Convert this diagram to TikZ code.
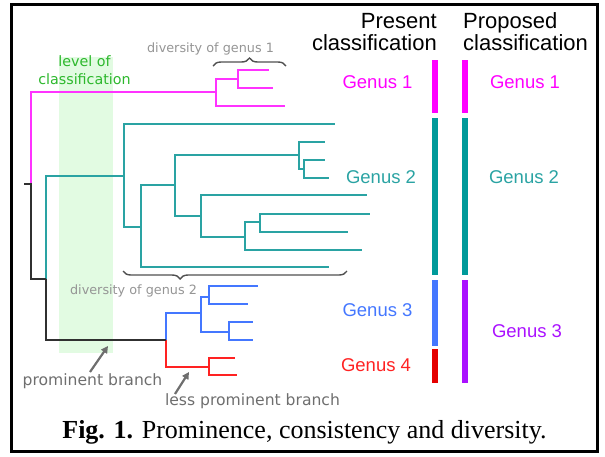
\documentclass[tikz,border=0pt]{standalone}
\usepackage{fontspec}
\setmainfont{Liberation Serif}
\newfontfamily\arialf{Liberation Sans}
\newfontfamily\verdf{DejaVu Sans}
\usetikzlibrary{decorations.pathreplacing,arrows.meta}
\definecolor{magc}{HTML}{FF33FF}
\definecolor{magbar}{HTML}{FF00FF}
\definecolor{tealc}{HTML}{2AA3A3}
\definecolor{tealbar}{HTML}{009A9A}
\definecolor{bluec}{HTML}{4477FF}
\definecolor{redc}{HTML}{FF2222}
\definecolor{purpc}{HTML}{AA11FF}
\definecolor{greent}{HTML}{2DB82D}
\definecolor{bandc}{HTML}{E2FBE2}
\definecolor{grayt}{HTML}{959595}
\definecolor{grayb}{HTML}{6E6E6E}
\definecolor{bracec}{HTML}{505050}
\definecolor{blackc}{HTML}{303030}
\tikzset{
  br/.style={line width=2pt, line join=miter, line cap=butt},
  bar/.style={line width=5.5pt},
  genus/.style={font=\arialf\fontsize{18.5}{20}\selectfont, inner sep=0pt, anchor=base},
  head/.style={font=\arialf\fontsize{22}{22}\selectfont, inner sep=0pt},
  note/.style={font=\verdf\fontsize{12.8}{14}\selectfont, text=grayt, inner sep=0pt, anchor=base},
  bnote/.style={font=\verdf\fontsize{15.6}{17}\selectfont, text=grayb, inner sep=0pt, anchor=base},
  gnote/.style={font=\verdf\fontsize{14.3}{16}\selectfont, text=greent, inner sep=0pt, anchor=base},
  ptr/.style={grayb, line width=2.2pt, -{Triangle[length=7pt,width=7pt]}},
  brc/.style={bracec, line width=1.4pt, decorate},
}
\begin{document}
\begin{tikzpicture}[x=1pt,y=-1pt]
\useasboundingbox (0,0) rectangle (605,456);
% green band
\fill[bandc] (59,57) rectangle (113,353);
% frame
\draw[line width=2.7pt] (11.3,4.7) rectangle (597.5,451.5);

% ---- tree coordinates ----
\coordinate (R) at (31,184);
\coordinate (S) at (24,184);
% magenta
\coordinate (M) at (216,92);
\coordinate (MB) at (238,79);
\coordinate (m1) at (269,70);
\coordinate (m2) at (273,88);
\coordinate (m3) at (285,106);
% black
\coordinate (K) at (46,279);
\coordinate (B) at (166,340);
% teal
\coordinate (T) at (124,176);
\coordinate (T2) at (141,227);
\coordinate (T3) at (175,185);
\coordinate (T4) at (299,155);
\coordinate (T5) at (201,216);
\coordinate (T6) at (304,169);
\coordinate (T7) at (245,237);
\coordinate (T8) at (260,222);
\coordinate (t1) at (335,124);
\coordinate (t2) at (325,142);
\coordinate (t3) at (325,160);
\coordinate (t4) at (329,178);
\coordinate (t5) at (367,195);
\coordinate (t6) at (370,214);
\coordinate (t7) at (348,232);
\coordinate (t8) at (362,250);
\coordinate (t9) at (329,267);
% blue
\coordinate (BL) at (201,313);
\coordinate (BL1) at (209,297);
\coordinate (BL2) at (229,332);
\coordinate (b1) at (258,286);
\coordinate (b2) at (248,304);
\coordinate (b3) at (253,322);
\coordinate (b4) at (253,340);
% red
\coordinate (RD) at (209,367);
\coordinate (r1) at (235,358);
\coordinate (r2) at (237,375);

% ---- tree branches ----
\draw[br, magc] (R) |- (M) (M) |- (MB) (M) |- (m3) (MB) |- (m1) (MB) |- (m2);
\draw[br, tealc] (K) |- (T) (T) |- (t1) (T) |- (T2) (T2) |- (t9) (T2) |- (T3)
  (T3) |- (T4) (T3) |- (T5) (T4) |- (t2) (T4) |- (T6) (T6) |- (t3) (T6) |- (t4)
  (T5) |- (t5) (T5) |- (T7) (T7) |- (T8) (T7) |- (t8) (T8) |- (t6) (T8) |- (t7);
\draw[br, bluec] (B) |- (BL) (BL) |- (BL1) (BL) |- (BL2) (BL1) |- (b1) (BL1) |- (b2)
  (BL2) |- (b3) (BL2) |- (b4);
\draw[br, redc] (B) |- (RD) (RD) |- (r1) (RD) |- (r2);
\draw[br, blackc] (S) -- (R) |- (K) (K) |- (B);

% ---- braces ----
\coordinate (br1a) at (213,66);
\coordinate (br1b) at (286,66);
\draw[brc, decoration={brace, amplitude=8pt}] (br1a) -- (br1b);
\coordinate (br2a) at (123,271);
\coordinate (br2b) at (347,271);
\draw[brc, decoration={brace, amplitude=8pt, mirror, aspect=0.255}] (br2a) -- (br2b);

% ---- notes ----
\node[note] (d1) at (210.5,52.5) {diversity of genus 1};
\node[note] (d2) at (133.5,294.3) {diversity of genus 2};
\node[gnote] (lv1) at (84.5,66.7) {level of};
\node[gnote] (lv2) at (84.5,84) {classification};
\node[bnote] (pb) at (92.5,385) {prominent branch};
\node[bnote] (lpb) at (252.5,405) {less prominent branch};
\coordinate (pbt) at (90,372);
\coordinate (pbh) at (108,346);
\coordinate (lpbt) at (175,394);
\coordinate (lpbh) at (189,372);
\draw[ptr] (pbt) -- (pbh);
\draw[ptr] (lpbt) -- (lpbh);

% ---- headers ----
\node[head, anchor=base east] (pr1) at (437,28.3) {Present};
\node[head, anchor=base east] (pr2) at (437,50.3) {classification};
\node[head, anchor=base west] (po1) at (463,28.3) {Proposed};
\node[head, anchor=base west] (po2) at (463,50.3) {classification};

% ---- bars ----
\coordinate (pa1) at (435,60);  \coordinate (pa2) at (435,113);
\coordinate (pa3) at (435,118); \coordinate (pa4) at (435,275);
\coordinate (pa5) at (435,280); \coordinate (pa6) at (435,346);
\coordinate (pa7) at (435,349); \coordinate (pa8) at (435,383);
\coordinate (qa1) at (465,60);  \coordinate (qa2) at (465,113);
\coordinate (qa3) at (465,118); \coordinate (qa4) at (465,275);
\coordinate (qa5) at (465,280); \coordinate (qa8) at (465,383);
\draw[bar, magbar] (pa1) -- (pa2);
\draw[bar, tealbar] (pa3) -- (pa4);
\draw[bar, bluec] (pa5) -- (pa6);
\draw[bar, red!90!black] (pa7) -- (pa8);
\draw[bar, magbar] (qa1) -- (qa2);
\draw[bar, tealbar] (qa3) -- (qa4);
\draw[bar, purpc] (qa5) -- (qa8);

% ---- genus labels ----
\node[genus, text=magbar] (g1) at (377.5,88) {Genus 1};
\node[genus, text=tealc] (g2) at (381,183) {Genus 2};
\node[genus, text=bluec] (g3) at (377.5,316) {Genus 3};
\node[genus, text=redc] (g4) at (376,371) {Genus 4};
\node[genus, text=magbar] (h1) at (525,88) {Genus 1};
\node[genus, text=tealc] (h2) at (524,183) {Genus 2};
\node[genus, text=purpc] (h3) at (527,337) {Genus 3};

% ---- caption ----
\node[inner sep=0pt, anchor=base, font=\fontsize{26}{28}\selectfont] (cap) at (304.5,438.3)
  {\textbf{Fig. 1.} Prominence, consistency and diversity.};
\end{tikzpicture}
\end{document}
